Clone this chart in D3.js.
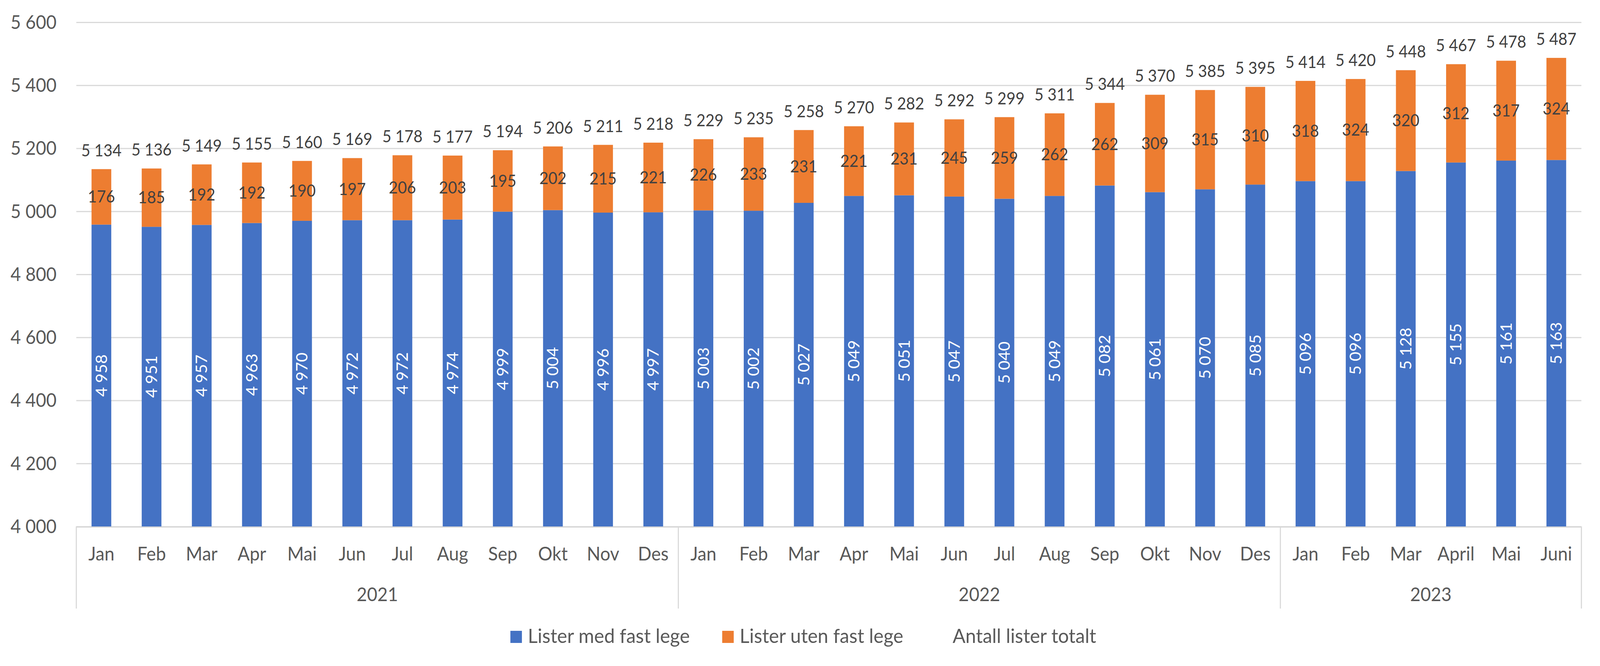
<!DOCTYPE html>
<html>
<head>
<meta charset="utf-8">
<script src="https://cdn.jsdelivr.net/npm/d3@7"></script>
<style>
  html, body { margin: 0; height: 100%; overflow: hidden; background: #fff; }
  svg { display: block; width: 100vw; height: 100vh; font-family: Lato, "Open Sans", sans-serif; }
  .grid line { stroke: #d9d9d9; stroke-width: 3; }
  .grid .domain { display: none; }
  .ylab text { fill: #595959; font-size: 48px; }
  .xlab text { fill: #595959; font-size: 48px; }
  .lbl { fill: #404040; font-size: 42px; }
  .lbl-in { fill: #ffffff; font-size: 42px; }
  .legend text { fill: #595959; font-size: 51px; }
</style>
</head>
<body>
<svg viewBox="0 0 4298 1704" preserveAspectRatio="none"></svg>
<script>
"use strict";

const months = ["Jan", "Feb", "Mar", "Apr", "Mai", "Jun", "Jul", "Aug", "Sep", "Okt", "Nov", "Des",
  "Jan", "Feb", "Mar", "Apr", "Mai", "Jun", "Jul", "Aug", "Sep", "Okt", "Nov", "Des",
  "Jan", "Feb", "Mar", "April", "Mai", "Juni"];
const years = ["2021", "2022", "2023"];
const monthsPerYear = [12, 12, 6];
const medFastLege = [4958, 4951, 4957, 4963, 4970, 4972, 4972, 4974, 4999, 5004, 4996, 4997,
  5003, 5002, 5027, 5049, 5051, 5047, 5040, 5049, 5082, 5061, 5070, 5085,
  5096, 5096, 5128, 5155, 5161, 5163];
const utenFastLege = [176, 185, 192, 192, 190, 197, 206, 203, 195, 202, 215, 221,
  226, 233, 231, 221, 231, 245, 259, 262, 262, 309, 315, 310,
  318, 324, 320, 312, 317, 324];
const totalt = [5134, 5136, 5149, 5155, 5160, 5169, 5178, 5177, 5194, 5206, 5211, 5218,
  5229, 5235, 5258, 5270, 5282, 5292, 5299, 5311, 5344, 5370, 5385, 5395,
  5414, 5420, 5448, 5467, 5478, 5487];
const yTicks = [4000, 4200, 4400, 4600, 4800, 5000, 5200, 5400, 5600];
const seriesNames = ["Lister med fast lege", "Lister uten fast lege", "Antall lister totalt"];

const svg = d3.select("svg");
const plotLeft = 205, plotRight = 4248, plotTop = 57, plotBottom = 1347;
const blue = "#4472c4", orange = "#ed7d31";

const nb = d3.formatLocale({ decimal: ",", thousands: "\u00a0", grouping: [3], currency: ["", ""] });
const fmt = nb.format(",d");

const idx = d3.range(months.length);
const x = d3.scaleBand().domain(idx).range([plotLeft, plotRight]).paddingInner(0.607).paddingOuter(0.3035);
const y = d3.scaleLinear().domain([4000, 5600]).range([plotBottom, plotTop]);

// gridlines + y labels
svg.append("g")
  .attr("class", "grid")
  .attr("transform", `translate(${plotLeft},0)`)
  .call(d3.axisLeft(y).tickValues(yTicks).tickSize(-(plotRight - plotLeft)).tickFormat(""));

svg.append("g")
  .attr("class", "ylab")
  .selectAll("text")
  .data(yTicks)
  .enter()
  .append("text")
  .attr("x", 152)
  .attr("y", d => y(d))
  .attr("dy", "0.35em")
  .attr("text-anchor", "end")
  .text(d => fmt(d));

// stacked bars
const bars = svg.append("g");
bars.selectAll("rect.med")
  .data(idx)
  .enter()
  .append("rect")
  .attr("class", "med")
  .attr("x", i => x(i))
  .attr("width", x.bandwidth())
  .attr("y", i => y(medFastLege[i]))
  .attr("height", i => y(4000) - y(medFastLege[i]))
  .attr("fill", blue);

bars.selectAll("rect.uten")
  .data(idx)
  .enter()
  .append("rect")
  .attr("class", "uten")
  .attr("x", i => x(i))
  .attr("width", x.bandwidth())
  .attr("y", i => y(medFastLege[i] + utenFastLege[i]))
  .attr("height", i => y(medFastLege[i]) - y(medFastLege[i] + utenFastLege[i]))
  .attr("fill", orange);

// category axis line and separators
svg.append("line")
  .attr("x1", plotLeft).attr("x2", plotRight)
  .attr("y1", plotBottom + 1.5).attr("y2", plotBottom + 1.5)
  .attr("stroke", "#d9d9d9").attr("stroke-width", 3);

const bounds = [0];
monthsPerYear.forEach(n => bounds.push(bounds[bounds.length - 1] + n));
const edgeX = k => k === 0 ? plotLeft : (k === months.length ? plotRight : x(k) - x.step() * x.paddingInner() / 2);

svg.append("g")
  .selectAll("line")
  .data(bounds)
  .enter()
  .append("line")
  .attr("x1", edgeX).attr("x2", edgeX)
  .attr("y1", plotBottom).attr("y2", 1557)
  .attr("stroke", "#d9d9d9").attr("stroke-width", 3);

// month labels
svg.append("g")
  .attr("class", "xlab")
  .selectAll("text")
  .data(idx)
  .enter()
  .append("text")
  .attr("x", i => x(i) + x.bandwidth() / 2)
  .attr("y", 1434)
  .attr("text-anchor", "middle")
  .text(i => months[i]);

// year labels
svg.append("g")
  .attr("class", "xlab")
  .selectAll("text")
  .data(years)
  .enter()
  .append("text")
  .attr("x", (d, k) => (edgeX(bounds[k]) + edgeX(bounds[k + 1])) / 2)
  .attr("y", 1538)
  .attr("text-anchor", "middle")
  .text(d => d);

// data labels
svg.append("g")
  .selectAll("text")
  .data(idx)
  .enter()
  .append("text")
  .attr("class", "lbl-in")
  .attr("transform", i => `translate(${x(i) + x.bandwidth() / 2},${(y(4000) + y(medFastLege[i])) / 2}) rotate(-90)`)
  .attr("dy", "0.35em")
  .attr("text-anchor", "middle")
  .text(i => fmt(medFastLege[i]));

svg.append("g")
  .selectAll("text")
  .data(idx)
  .enter()
  .append("text")
  .attr("class", "lbl")
  .attr("x", i => x(i) + x.bandwidth() / 2)
  .attr("y", i => (y(medFastLege[i]) + y(medFastLege[i] + utenFastLege[i])) / 2)
  .attr("dy", "0.35em")
  .attr("text-anchor", "middle")
  .text(i => fmt(utenFastLege[i]));

svg.append("g")
  .selectAll("text")
  .data(idx)
  .enter()
  .append("text")
  .attr("class", "lbl")
  .attr("x", i => x(i) + x.bandwidth() / 2)
  .attr("y", i => y(totalt[i]) - 33)
  .attr("text-anchor", "middle")
  .text(i => fmt(totalt[i]));

// legend
const legend = svg.append("g").attr("class", "legend");
const legendItems = [
  { name: seriesNames[0], color: blue, x: 1371 },
  { name: seriesNames[1], color: orange, x: 1940 },
  { name: seriesNames[2], color: null, x: 2512 }
];
legendItems.forEach(d => {
  if (d.color) {
    legend.append("rect")
      .attr("x", d.x).attr("y", 1614)
      .attr("width", 31).attr("height", 31)
      .attr("fill", d.color);
  }
  legend.append("text")
    .attr("x", d.x + 47)
    .attr("y", 1645)
    .text(d.name);
});
</script>
</body>
</html>
